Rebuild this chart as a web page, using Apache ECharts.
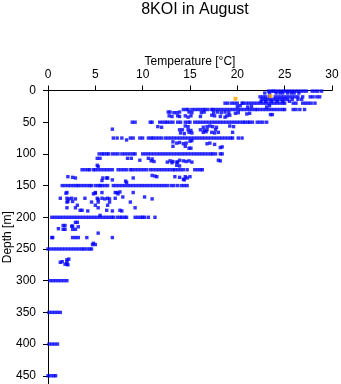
<!DOCTYPE html>
<html>
<head>
<meta charset="utf-8">
<script src="https://cdn.jsdelivr.net/npm/echarts@6/dist/echarts.min.js"></script>
<style>
  html, body { margin: 0; padding: 0; background: #ffffff; }
  #chart { width: 341px; height: 384px; }
</style>
</head>
<body>
<div id="chart"></div>
<script>
// Station 8KOI, August: temperature (°C) against depth (m).

const tempTicks = [0, 5, 10, 15, 20, 25, 30];
const depthTicks = [0, 50, 100, 150, 200, 250, 300, 350, 400, 450];

// Temperatures recorded at the standard sampling depths.
const t1 = [23.3, 23.6, 23.8, 24.0, 24.3, 24.6, 24.9, 25.2, 25.5, 25.8, 26.1, 26.4, 26.7, 27.0, 27.3, 27.9, 28.2, 28.5, 28.9];
const t4 = [22.9, 23.4, 24.1, 24.5, 24.8, 25.3, 25.7, 26.0, 26.5];
const t10 = [22.4, 22.7, 23.0, 23.4, 24.0, 24.3, 24.6, 24.9, 25.2, 25.5, 25.8, 26.1, 26.4, 26.9, 27.7, 28.0, 28.4, 28.7];
const t14 = [22.6, 22.9, 23.2, 23.5, 23.8, 24.1, 24.4, 24.7, 25.0, 25.3, 25.8, 26.4, 26.8];
const t17 = [22.5, 23.0, 23.6, 24.2, 24.8, 25.5];
const t20 = [18.7, 19.0, 19.4, 19.7, 20.0, 20.5, 20.6, 20.9, 21.2, 21.5, 21.8, 22.1, 22.4, 22.7, 23.0, 23.3, 23.6, 23.9, 24.2, 24.5, 24.8, 25.0, 25.9, 26.2, 26.9, 27.2, 27.5, 27.8, 28.2];
const t30 = [14.3, 14.6, 14.8, 15.2, 15.5, 15.8, 16.1, 16.4, 16.6, 16.9, 17.3, 17.4, 17.7, 18.0, 18.3, 18.6, 18.9, 19.2, 19.5, 19.8, 20.1, 20.4, 20.7, 21.0, 21.3, 21.6, 21.9, 22.1, 22.4, 22.7, 23.0, 23.3, 23.6, 23.9, 24.2, 24.5, 24.8, 25.0, 25.9, 26.2, 26.6, 27.1];
const t50 = [8.9, 9.2, 10.8, 11.0, 11.8, 12.1, 12.4, 12.6, 12.9, 13.2, 13.7, 14.0, 14.5, 14.8, 15.0, 15.5, 15.8, 16.1, 16.4, 16.7, 17.0, 17.3, 17.6, 17.9, 18.2, 18.5, 18.8, 19.1, 19.4, 19.7, 20.0, 20.3, 20.6, 20.8, 21.1, 21.3, 21.6, 22.1, 22.4, 22.7, 23.1];
const t75 = [6.9, 7.3, 7.8, 8.7, 9.0, 9.7, 10.0, 10.6, 10.9, 11.1, 11.4, 11.7, 12.0, 12.4, 12.7, 13.0, 13.3, 13.6, 13.9, 14.2, 14.5, 14.8, 15.1, 15.4, 15.7, 16.0, 16.3, 16.6, 16.9, 17.2, 17.5, 17.8, 18.1, 18.4, 18.7, 19.0, 19.3, 19.5, 20.1, 20.5];
const t100 = [5.4, 5.7, 5.9, 6.2, 6.4, 6.8, 7.1, 7.4, 7.8, 8.1, 8.4, 8.7, 9.0, 9.2, 10.0, 10.3, 10.6, 10.9, 11.2, 11.5, 11.8, 12.1, 12.4, 12.7, 13.0, 13.3, 13.6, 13.9, 14.2, 14.5, 14.8, 15.1, 15.4, 15.7, 16.0, 16.3, 16.6, 16.9, 17.2, 17.4, 17.7, 18.2, 18.4];
const t125 = [3.6, 3.9, 4.2, 4.4, 4.8, 5.0, 5.3, 5.6, 5.9, 6.2, 6.5, 6.8, 7.4, 7.7, 8.0, 8.3, 8.7, 8.9, 9.2, 9.5, 9.8, 10.1, 10.4, 10.8, 11.1, 11.4, 11.7, 12.0, 12.3, 12.6, 12.9, 13.2, 13.4, 13.7, 14.0, 14.3, 14.7, 15.5, 15.8, 16.1, 16.3];
const t150 = [1.5, 1.8, 2.1, 2.4, 2.7, 3.0, 3.2, 3.5, 3.8, 4.1, 4.4, 4.6, 5.0, 5.3, 5.5, 5.7, 6.0, 6.3, 6.9, 7.2, 7.5, 7.8, 8.1, 8.4, 8.7, 9.0, 9.3, 9.6, 9.9, 10.2, 10.5, 10.8, 11.1, 11.4, 11.7, 12.0, 12.3, 12.6, 13.0, 13.3, 13.7, 14.1, 14.4, 14.7];
const t200 = [0.4, 0.7, 1.0, 1.3, 1.6, 1.9, 2.2, 2.5, 2.8, 3.1, 3.4, 3.7, 4.0, 4.3, 4.6, 4.9, 5.2, 5.5, 5.8, 6.1, 6.4, 6.7, 6.9, 7.3, 7.6, 7.8, 8.1, 8.3, 9.2, 9.5, 9.8, 10.0, 10.2, 10.6, 11.3];
const t250 = [0.0, 0.3, 0.6, 0.9, 1.2, 1.5, 1.8, 2.1, 2.4, 2.7, 3.0, 3.3, 3.6, 3.8, 4.1, 4.4, 4.6];
const t300 = [0.2, 0.5, 0.8, 1.1, 1.4, 1.7, 2.0];
const t350 = [0.1, 0.4, 0.7, 1.0, 1.3];
const t400 = [0.1, 0.4, 0.7, 1.0];
const t450 = [0.0, 0.3, 0.6, 0.8];

// Casts recorded between the standard depths: [temperature, depth].
const upperCasts = [
  [20.0, 25], [20.3, 24], [21.1, 26], [21.5, 25], [23.1, 26], [23.4, 24],
  [12.7, 34], [12.9, 34], [13.3, 35], [13.6, 35], [13.9, 34], [14.9, 34], [15.2, 35], [16.2, 35], [16.5, 34],
  [17.5, 35], [17.9, 34], [18.3, 35], [18.7, 34], [19.1, 35], [19.8, 36], [20.1, 35], [21.0, 37], [21.3, 36],
  [23.5, 38], [23.7, 38], [12.8, 40], [13.1, 41], [13.7, 40], [13.9, 41], [14.5, 40], [14.8, 42], [15.1, 40],
  [16.1, 41], [17.3, 39], [17.6, 40], [18.2, 41], [18.7, 42], [18.9, 40], [19.2, 39]
];
const midCasts = [
  [11.6, 57], [12.0, 58], [14.5, 56], [14.8, 57], [16.4, 58], [16.8, 57], [17.1, 56], [17.4, 57], [17.8, 58],
  [19.2, 56], [19.6, 57], [6.8, 61], [13.9, 62], [14.2, 62], [14.8, 62], [15.1, 63], [16.1, 62], [16.5, 63],
  [16.8, 62], [17.7, 62], [14.0, 67], [14.4, 68], [14.9, 66], [15.2, 67], [16.4, 66], [16.7, 65], [17.3, 66],
  [17.6, 67], [18.0, 66], [19.5, 66],
  [8.3, 78], [13.2, 81], [13.6, 83], [13.9, 82], [14.3, 84], [14.6, 83], [15.0, 80], [15.2, 79], [16.8, 84],
  [17.1, 83], [17.6, 85], [13.2, 88], [14.5, 88], [14.9, 91], [15.1, 91], [18.2, 90], [18.4, 89],
  [5.2, 107], [5.5, 107], [8.4, 107], [8.8, 107], [9.7, 110], [10.6, 107], [11.0, 108], [10.9, 111], [11.2, 112],
  [12.9, 111], [13.2, 112], [13.6, 113], [13.9, 110], [14.3, 111], [14.6, 112], [14.9, 111], [15.2, 113],
  [18.0, 110], [18.2, 111], [12.6, 113], [13.1, 114], [13.7, 113], [5.2, 118], [5.3, 120], [13.6, 118], [13.9, 119],
  [2.1, 136], [2.6, 137], [2.9, 138], [5.7, 142], [5.8, 138], [6.2, 138], [6.3, 138], [6.8, 141], [8.2, 143],
  [8.3, 145], [9.0, 138], [11.0, 134], [11.3, 135], [11.5, 136], [13.4, 136], [13.9, 137], [14.3, 140],
  [14.5, 136], [14.7, 138], [15.0, 136], [14.4, 141]
];
const deepCasts = [
  [2.0, 161], [5.0, 161], [5.7, 161], [7.1, 161], [7.3, 161], [7.6, 160], [9.0, 161], [4.8, 163], [5.0, 162],
  [7.4, 163], [7.9, 168], [10.2, 168], [1.3, 170], [2.0, 170], [2.2, 171], [2.5, 170], [2.9, 171], [3.9, 170],
  [5.2, 170], [5.3, 172], [5.7, 170], [6.0, 171], [6.3, 170], [6.5, 171], [7.1, 170], [11.0, 171], [2.0, 176],
  [2.1, 175], [2.6, 175], [4.6, 176], [5.3, 176], [6.5, 176], [8.7, 176], [5.0, 181], [3.1, 181], [6.3, 181],
  [2.0, 185], [2.9, 185], [5.3, 185], [9.2, 185], [3.4, 189], [3.6, 189], [4.2, 190], [6.2, 189], [6.8, 190],
  [7.6, 189], [7.8, 190], [5.5, 197], [1.9, 162],
  [2.9, 208], [3.1, 208], [1.6, 213], [1.8, 213], [2.5, 214], [2.6, 214], [3.2, 215], [1.1, 218], [1.6, 219],
  [1.8, 219], [2.6, 219], [2.9, 219], [5.3, 225], [0.4, 232], [0.5, 232], [2.6, 232], [2.9, 232], [3.2, 232],
  [4.1, 232], [6.8, 232], [4.8, 241], [4.7, 243], [5.0, 243],
  [2.0, 267], [2.2, 266], [1.3, 271], [1.5, 270], [2.0, 270], [1.8, 274], [2.0, 274], [2.1, 275]
];

// Highlighted near-surface readings.
const marked = [[19.8, 13], [23.5, 9]];

const levels = [
  [1, t1], [4, t4], [10, t10], [14, t14], [17, t17], [20, t20], [30, t30], [50, t50], [75, t75],
  [100, t100], [125, t125], [150, t150], [200, t200], [250, t250], [300, t300], [350, t350],
  [400, t400], [450, t450]
];

const points = [];
levels.forEach(([d, temps]) => temps.forEach(t => points.push([t, d])));
upperCasts.concat(midCasts, deepCasts).forEach(p => points.push(p));

const font = 'Liberation Sans, Arial, Helvetica, sans-serif';
const chart = echarts.init(document.getElementById('chart'), null, { renderer: 'canvas' });

chart.setOption({
  animation: false,
  backgroundColor: '#ffffff',
  title: {
    text: '8KOI in August',
    left: 190,
    top: -3,
    textAlign: 'center',
    textStyle: { fontFamily: font, fontSize: 16, fontWeight: 'normal', color: '#000000' }
  },
  grid: { left: 48, top: 90.5, width: 284, height: 293.5, containLabel: false, outerBoundsMode: 'none' },
  xAxis: {
    type: 'value',
    position: 'top',
    min: 0,
    max: 30,
    interval: 5,
    name: 'Temperature [°C]',
    nameLocation: 'middle',
    nameGap: 23,
    nameMoveOverlap: false,
    nameTextStyle: { fontFamily: font, fontSize: 12, color: '#000000' },
    axisLine: { show: true, onZero: false, lineStyle: { color: '#000000', width: 1 } },
    axisTick: { show: true, inside: false, length: 5, lineStyle: { color: '#000000' }, customValues: tempTicks },
    axisLabel: { margin: 10, fontFamily: font, fontSize: 12, color: '#000000', customValues: tempTicks },
    splitLine: { show: false }
  },
  yAxis: {
    type: 'value',
    inverse: true,
    min: 0,
    max: 463,
    name: 'Depth [m]',
    nameLocation: 'middle',
    nameGap: 34,
    nameRotate: 90,
    nameMoveOverlap: false,
    nameTextStyle: { fontFamily: font, fontSize: 12, color: '#000000' },
    axisLine: { show: true, onZero: false, lineStyle: { color: '#000000', width: 1 } },
    axisTick: { show: true, inside: false, length: 5, lineStyle: { color: '#000000' }, customValues: depthTicks },
    axisLabel: { margin: 12, fontFamily: font, fontSize: 12, color: '#000000', customValues: depthTicks },
    splitLine: { show: false }
  },
  series: [
    {
      type: 'scatter',
      data: points,
      symbol: 'rect',
      symbolSize: 3.4,
      itemStyle: { color: '#0000ff' },
      clip: false
    },
    {
      type: 'scatter',
      data: marked,
      symbol: 'rect',
      symbolSize: 4,
      itemStyle: { color: '#ffa500' },
      clip: false
    }
  ]
});
</script>
</body>
</html>
